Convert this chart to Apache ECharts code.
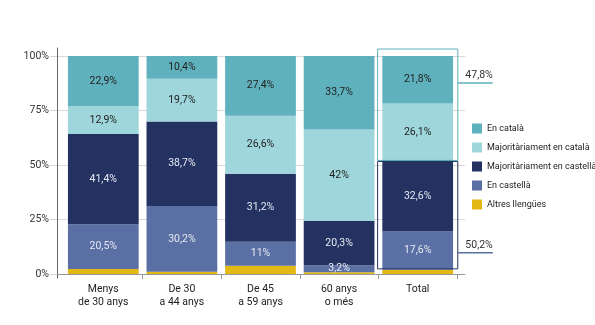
<!DOCTYPE html>
<html>
<head>
<meta charset="utf-8">
<script src="https://cdn.jsdelivr.net/npm/echarts@6/dist/echarts.min.js"></script>
<style>html,body{margin:0;padding:0;background:#fff;}#c{width:595px;height:325px;}</style>
</head>
<body>
<div id="c"></div>
<script>
var categories = ['Menys\nde 30 anys', 'De 30\na 44 anys', 'De 45\na 59 anys', '60 anys\no més', 'Total'];
var enCatala = [22.9, 10.4, 27.4, 33.7, 21.8];
var majCatala = [12.9, 19.7, 26.6, 42, 26.1];
var majCastella = [41.4, 38.7, 31.2, 20.3, 32.6];
var enCastella = [20.5, 30.2, 11, 3.2, 17.6];
var altres = [2.3, 1.0, 3.8, 0.8, 1.9];
var yTicks = [0, 25, 50, 75, 100];
var totalCatalaGroup = '47,8%';
var totalCastellaGroup = '50,2%';

var COL = {
  cat: '#5fb2bd', majcat: '#9ed6db', majcast: '#243262', cast: '#5a6fa3', alt: '#e3b814'
};
var FONT = 'Roboto';

function fmt(v) { return String(v).replace('.', ',') + '%'; }

function barSeries(name, data, color, labelColor, showLabel) {
  return {
    name: name, type: 'bar', stack: 's', xAxisIndex: 1, yAxisIndex: 1,
    barWidth: '90%', data: data,
    itemStyle: { color: color },
    label: {
      show: showLabel, position: 'inside', color: labelColor,
      fontFamily: FONT, fontSize: 10.5,
      formatter: function (p) { return fmt(p.value); }
    },
    emphasis: { disabled: true }
  };
}

var last = categories.length - 1;
var lowStart = altres[last];
var midVal = altres[last] + enCastella[last] + majCastella[last];

var chart = echarts.init(document.getElementById('c'), null, { renderer: 'canvas' });
chart.setOption({
  animation: false,
  textStyle: { fontFamily: FONT },
  grid: [
    { left: 57, right: 130, top: 56, bottom: 51 },
    { left: 64, right: 138, top: 56, bottom: 51 },
    { left: 57, right: 130, top: 48, bottom: 47 }
  ],
  xAxis: [
    { type: 'category', gridIndex: 0, data: [''], axisLine: { show: true, lineStyle: { color: '#999', width: 1 } },
      axisTick: { show: false }, axisLabel: { show: false } },
    { type: 'category', gridIndex: 1, data: categories,
      axisLine: { show: false },
      axisTick: { show: true, length: 5, lineStyle: { color: '#999' }, interval: function (i) { return i > 0; } },
      axisLabel: { color: '#222', fontSize: 10.5, lineHeight: 13, margin: 9, fontFamily: FONT } },
    { type: 'category', gridIndex: 2, data: [''], show: false }
  ],
  yAxis: [
    { type: 'value', gridIndex: 0, min: 0, max: 100, interval: 25,
      axisLine: { show: false },
      axisTick: { show: true, length: 7, lineStyle: { color: '#d4d4d4' } },
      splitLine: { show: true, lineStyle: { color: '#d9d9d9', width: 1 } },
      axisLabel: { color: '#333', fontSize: 10.5, margin: 8, fontFamily: FONT,
        formatter: function (v) { return yTicks.indexOf(v) >= 0 ? v + '%' : ''; } } },
    { type: 'value', gridIndex: 1, min: 0, max: 100, show: false },
    { type: 'value', gridIndex: 2, min: 0, max: 1, axisLine: { show: true, lineStyle: { color: '#666', width: 1 } },
      axisTick: { show: false }, axisLabel: { show: false }, splitLine: { show: false } }
  ],
  legend: {
    orient: 'vertical', left: 467, top: 117, itemWidth: 10, itemHeight: 10, itemGap: 6,
    icon: 'rect', textStyle: { color: '#222', fontSize: 9, lineHeight: 13, fontFamily: FONT, padding: [0, 0, 0, 0] },
    itemStyle: { borderWidth: 0 },
    data: ['En català', 'Majoritàriament en català', 'Majoritàriament en castellà', 'En castellà', 'Altres llengües']
  },
  series: [
    barSeries('Altres llengües', altres, COL.alt, '#222', false),
    barSeries('En castellà', enCastella, COL.cast, '#e6e9f2', true),
    barSeries('Majoritàriament en castellà', majCastella, COL.majcast, '#e6e9f2', true),
    barSeries('Majoritàriament en català', majCatala, COL.majcat, '#222', true),
    barSeries('En català', enCatala, COL.cat, '#222', true),
    {
      type: 'custom', xAxisIndex: 1, yAxisIndex: 1, clip: false, z: 10, silent: true,
      data: [
        [last, midVal, 100, totalCatalaGroup, 0],
        [last, lowStart, midVal, totalCastellaGroup, 1]
      ],
      renderItem: function (params, api) {
        var idx = api.value(0);
        var lo = api.coord([idx, api.value(1)]);
        var hi = api.coord([idx, api.value(2)]);
        var bw = api.size([1, 0])[0];
        var half = bw * 0.51;
        var isTop = api.value(4) === 0;
        var color = isTop ? COL.cat : COL.majcast;
        var lineColor = isTop ? COL.cat : COL.cast;
        var top = isTop ? hi[1] - 7 : hi[1] + 1;
        var bottom = isTop ? lo[1] : lo[1] - 1;
        var x0 = lo[0] - half, x1 = lo[0] + half;
        var ly = isTop ? top + 34 : bottom - 16;
        return {
          type: 'group',
          children: [
            { type: 'rect', shape: { x: x0, y: top, width: x1 - x0, height: bottom - top },
              style: { fill: null, stroke: color, lineWidth: 1 } },
            { type: 'line', shape: { x1: x1, y1: ly, x2: x1 + 35, y2: ly },
              style: { stroke: lineColor, lineWidth: 1.5 } },
            { type: 'text', x: x1 + 35, y: ly - 2,
              style: { text: api.value(3), fill: '#333', font: '10.5px ' + FONT, textAlign: 'right', textVerticalAlign: 'bottom' } }
          ]
        };
      }
    }
  ]
});
</script>
</body>
</html>
